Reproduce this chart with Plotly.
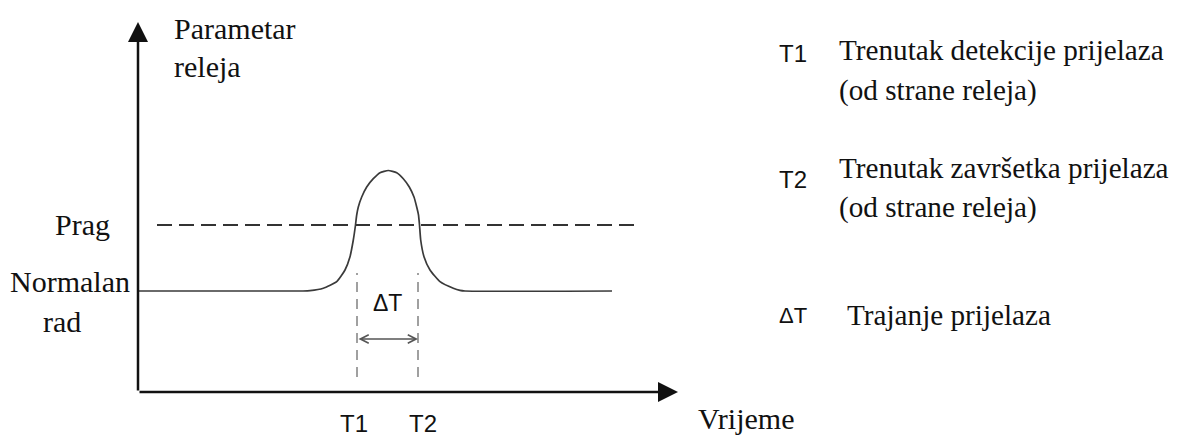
import plotly.graph_objects as go

# ---- data (arbitrary units: time on x, relay parameter on y) ----
curve_t = [0.1, 16.5, 17.2, 18.53, 19.87, 20.7, 21.2, 21.53, 21.75, 21.87, 22.03, 22.37, 22.87,
           23.53, 24.2, 25.03, 25.87, 26.53, 27.13, 27.6, 27.87, 28.05, 28.15, 28.27, 28.6,
           29.2, 30.2, 31.53, 32.2, 32.7, 47.4]
curve_v = [10.1, 10.1, 10.13, 10.37, 11.03, 12.2, 13.53, 15.2, 16.7, 17.7, 18.5, 19.5, 20.5,
           21.33, 21.93, 22.15, 21.93, 21.33, 20.5, 19.5, 18.5, 17.7, 16.7, 15.2, 13.53,
           12.2, 11.03, 10.37, 10.16, 10.1, 10.1]
threshold_t = [1.9, 50.2]
threshold_v = 16.7
t1, t2 = 21.9, 28.0
marker_v = [1.5, 11.9]
delta_arrow_v = 5.3
x_axis_end = 54.0
y_axis_end = 37.0

tick_labels = ["T1", "T2"]
legend_keys = ["T1", "T2", "ΔT"]
legend_lines = [["Trenutak detekcije prijelaza", "(od strane releja)"],
                ["Trenutak završetka prijelaza", "(od strane releja)"],
                ["Trajanje prijelaza"]]

SERIF = "Liberation Serif, Times New Roman, serif"
SANS = "Liberation Sans, Arial, sans-serif"
INK = "#111111"

fig = go.Figure()

# threshold (dashed)
fig.add_trace(go.Scatter(x=threshold_t, y=[threshold_v, threshold_v], mode="lines",
                         line=dict(color="#333333", width=2, dash="15px,7px"),
                         hoverinfo="skip"))
# T1 / T2 marker lines
for tv in (t1, t2):
    fig.add_trace(go.Scatter(x=[tv, tv], y=marker_v, mode="lines",
                             line=dict(color="#a0a0a0", width=2, dash="10px,7px"),
                             hoverinfo="skip"))
# relay parameter curve
fig.add_trace(go.Scatter(x=curve_t, y=curve_v, mode="lines",
                         line=dict(color="#3a3a3a", width=1.7, shape="spline", smoothing=0.5),
                         hoverinfo="skip"))

ann = []
# axes with arrows
ann.append(dict(x=x_axis_end, y=0, ax=0, ay=0, xref="x", yref="y", axref="x", ayref="y",
                text="", showarrow=True, arrowhead=2, arrowsize=1.6, arrowwidth=2.5,
                arrowcolor=INK))
ann.append(dict(x=0, y=y_axis_end, ax=0, ay=0, xref="x", yref="y", axref="x", ayref="y",
                text="", showarrow=True, arrowhead=2, arrowsize=1.6, arrowwidth=2.5,
                arrowcolor=INK))
# delta T double arrow
ann.append(dict(x=t2, y=delta_arrow_v, ax=t1, ay=delta_arrow_v, xref="x", yref="y",
                axref="x", ayref="y", text="", showarrow=True, arrowside="end+start",
                arrowhead=5, startarrowhead=5, arrowsize=1.1, startarrowsize=1.1,
                arrowwidth=1.5, arrowcolor="#555555"))
ann.append(dict(x=(t1 + t2) / 2, y=8.9, text="ΔT", showarrow=False,
                font=dict(family=SANS, size=23, color=INK)))

def serif_label(x, y, text, xanchor="center", size=30):
    ann.append(dict(x=x, y=y, text=text, xanchor=xanchor, showarrow=False,
                    font=dict(family=SERIF, size=size, color=INK)))

# axis labels
serif_label(3.4, 36.4, "Parametar", "left")
serif_label(3.4, 32.6, "releja", "left")
serif_label(-5.6, 16.8, "Prag")
serif_label(-6.8, 11.1, "Normalan")
serif_label(-7.6, 7.1, "rad")
serif_label(55.8, -2.6, "Vrijeme", "left")
for tv, lab, dx in zip((t1, t2), tick_labels, (-0.3, 0.5)):
    ann.append(dict(x=tv + dx, y=-3.1, text=lab, showarrow=False,
                    font=dict(family=SANS, size=24, color=INK)))

# right-hand legend
key_y = [33.9, 21.3, 7.7]
key_size = [24, 24, 22]
line_y = [[34.2, 30.2], [22.4, 18.5], [7.7]]
line_x = [69.9, 69.9, 70.7]
for k, ky, ks, lines, lys, lx in zip(legend_keys, key_y, key_size, legend_lines, line_y, line_x):
    ann.append(dict(x=63.9, y=ky, text=k, xanchor="left", showarrow=False,
                    font=dict(family=SANS, size=ks, color=INK)))
    for txt, ly in zip(lines, lys):
        serif_label(lx, ly, txt, "left", size=29.2)

# the page body has an 8px margin; the figure is sized so its right/bottom edges meet the window
fig.update_layout(
    width=1169, height=428,
    margin=dict(l=0, r=0, t=0, b=0),
    paper_bgcolor="white", plot_bgcolor="white",
    showlegend=False,
    xaxis=dict(range=[-13.0, 103.9], visible=False, fixedrange=True),
    yaxis=dict(range=[-4.4, 38.4], visible=False, fixedrange=True),
    annotations=ann,
)

fig.write_html("out.html", config={"displayModeBar": False})
